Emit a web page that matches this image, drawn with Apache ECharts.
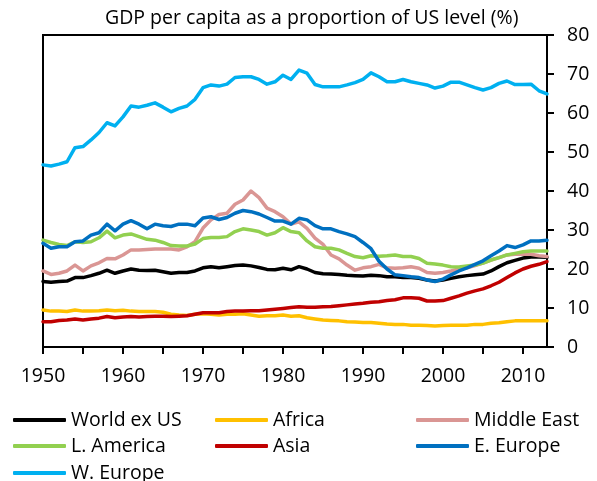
<!DOCTYPE html>
<html>
<head>
<meta charset="utf-8">
<script src="https://cdn.jsdelivr.net/npm/echarts@6/dist/echarts.min.js"></script>
<style>
  html, body { margin: 0; padding: 0; background: #fff; }
  #chart { width: 597px; height: 481px; }
</style>
</head>
<body>
<div id="chart"></div>
<script>
const FONT = "Open Sans";

const startYear = 1950;
const endYear = 2013;

const worldExUS = [
  16.8, 16.6, 16.8, 16.9, 17.8, 17.8, 18.3, 18.9, 19.7, 18.9,
  19.5, 20.0, 19.7, 19.6, 19.7, 19.3, 18.9, 19.1, 19.1, 19.5,
  20.3, 20.6, 20.3, 20.6, 20.9, 21.0, 20.8, 20.4, 19.9, 19.8,
  20.2, 19.8, 20.6, 20.0, 19.1, 18.8, 18.7, 18.6, 18.4, 18.3,
  18.2, 18.4, 18.3, 18.0, 18.0, 17.8, 17.8, 17.6, 17.2, 16.9,
  17.2, 17.6, 18.0, 18.3, 18.5, 18.7, 19.5, 20.6, 21.6, 22.2,
  22.8, 23.1, 23.1, 23.0
];
const africa = [
  9.5, 9.2, 9.2, 9.1, 9.5, 9.2, 9.2, 9.3, 9.5, 9.3,
  9.4, 9.2, 9.1, 9.1, 9.1, 8.9, 8.4, 8.2, 8.1, 8.4,
  8.5, 8.4, 8.2, 8.4, 8.4, 8.5, 8.2, 7.9, 8.0, 8.0,
  8.2, 7.9, 8.0, 7.5, 7.2, 6.9, 6.8, 6.7, 6.5, 6.4,
  6.3, 6.3, 6.1, 5.9, 5.8, 5.8, 5.6, 5.6, 5.5, 5.4,
  5.5, 5.6, 5.6, 5.6, 5.8, 5.8, 6.1, 6.2, 6.5, 6.7,
  6.7, 6.7, 6.7, 6.7
];
const middleEast = [
  19.5, 18.6, 18.9, 19.5, 21.0, 19.5, 20.8, 21.6, 22.7, 22.6,
  23.6, 24.9, 24.9, 25.0, 25.1, 25.1, 25.1, 24.9, 25.7, 27.0,
  30.5, 32.6, 34.0, 34.3, 36.6, 37.7, 40.0, 38.3, 35.6, 34.7,
  33.4, 31.5, 32.1, 30.4, 27.9, 26.3, 23.6, 22.6, 21.0, 19.7,
  20.3, 20.6, 21.2, 20.3, 20.2, 20.3, 20.6, 20.2, 19.1, 18.9,
  19.1, 19.5, 20.0, 20.3, 20.9, 21.5, 22.3, 22.9, 23.6, 23.8,
  23.8, 23.8, 23.4, 23.2
];
const latinAmerica = [
  27.4, 26.8, 26.3, 26.0, 27.0, 26.8, 27.0, 28.0, 29.7, 28.0,
  28.7, 29.0, 28.3, 27.6, 27.4, 26.8, 26.0, 25.9, 25.9, 26.4,
  27.8, 28.1, 28.1, 28.3, 29.6, 30.3, 30.0, 29.6, 28.7, 29.3,
  30.6, 29.6, 29.3, 27.2, 25.7, 25.3, 25.3, 24.9, 24.0, 23.2,
  22.9, 23.4, 23.3, 23.4, 23.6, 23.2, 23.2, 22.7, 21.5, 21.3,
  21.0, 20.6, 20.5, 20.8, 21.0, 21.5, 22.3, 22.9, 23.6, 24.0,
  24.4, 24.6, 24.6, 24.6
];
const asia = [
  6.5, 6.5, 6.8, 6.9, 7.2, 6.9, 7.2, 7.4, 7.8, 7.5,
  7.7, 7.8, 7.7, 7.8, 7.9, 7.9, 7.8, 7.9, 8.0, 8.4,
  8.8, 8.8, 8.8, 9.1, 9.2, 9.2, 9.3, 9.3, 9.5, 9.7,
  9.9, 10.1, 10.3, 10.2, 10.2, 10.3, 10.4, 10.6, 10.8, 11.0,
  11.2, 11.5, 11.6, 11.9, 12.1, 12.6, 12.6, 12.5, 11.8, 11.8,
  11.9, 12.5, 13.1, 13.8, 14.4, 14.9, 15.7, 16.6, 17.8, 19.0,
  20.0, 20.7, 21.2, 21.9
];
const eastEurope = [
  26.6, 25.3, 25.7, 25.7, 27.0, 27.2, 28.7, 29.3, 31.5, 29.8,
  31.5, 32.4, 31.5, 30.3, 31.5, 31.1, 30.9, 31.5, 31.5, 31.1,
  33.1, 33.4, 32.7, 33.2, 34.3, 35.0, 34.7, 34.1, 33.2, 32.3,
  32.3, 31.5, 33.0, 32.6, 31.1, 30.3, 30.3, 29.6, 29.0, 28.3,
  26.8, 25.2, 22.0, 20.0, 18.5, 18.3, 18.0, 17.8, 17.2, 16.8,
  17.4, 18.5, 19.5, 20.3, 21.2, 22.1, 23.4, 24.6, 26.0, 25.5,
  26.2, 27.2, 27.2, 27.4
];
const westEurope = [
  46.7, 46.4, 46.9, 47.5, 51.1, 51.4, 53.1, 55.0, 57.5, 56.7,
  59.0, 61.8, 61.5, 62.0, 62.6, 61.5, 60.3, 61.2, 61.8, 63.5,
  66.5, 67.2, 66.9, 67.4, 69.1, 69.3, 69.3, 68.6, 67.4, 68.0,
  69.7, 68.6, 71.0, 70.2, 67.3, 66.7, 66.7, 66.7, 67.2, 67.8,
  68.6, 70.3, 69.3, 68.0, 68.0, 68.6, 68.0, 67.6, 67.2, 66.4,
  66.9, 67.9, 67.9, 67.2, 66.5, 65.9, 66.5, 67.6, 68.2, 67.3,
  67.3, 67.4, 65.7, 64.9
];

const xTicks = [1950, 1955, 1960, 1965, 1970, 1975, 1980, 1985, 1990, 1995, 2000, 2005, 2010];
const xLabels = [1950, 1960, 1970, 1980, 1990, 2000, 2010];

const seriesList = [
  { name: "World ex US", data: worldExUS, color: "#000000" },
  { name: "Africa", data: africa, color: "#FFC000" },
  { name: "Middle East", data: middleEast, color: "#DA9694" },
  { name: "L. America", data: latinAmerica, color: "#92D050" },
  { name: "Asia", data: asia, color: "#C00000" },
  { name: "E. Europe", data: eastEurope, color: "#0070C0" },
  { name: "W. Europe", data: westEurope, color: "#00B0F0" }
];

// legend slots: 3 columns x 3 rows, in series order
const legendCols = [13, 215, 416];
const legendRows = [410, 436, 463];

const years = [];
for (let y = startYear; y <= endYear; y++) years.push(y);

const legendText = { fontFamily: FONT, fontSize: 19.5, color: "#000" };
const legends = seriesList.map((s, i) => ({
  left: legendCols[i % 3],
  top: legendRows[Math.floor(i / 3)],
  padding: 0,
  itemWidth: 53,
  itemHeight: 4,
  icon: "roundRect",
  textStyle: legendText,
  data: [s.name]
}));

const chart = echarts.init(document.getElementById("chart"), null, { renderer: "canvas" });

chart.setOption({
  animation: false,
  backgroundColor: "#fff",
  title: {
    text: "GDP per capita as a proportion of US level (%)",
    left: 100,
    top: 3,
    textStyle: { fontFamily: FONT, fontSize: 19.5, fontWeight: "normal", color: "#000" }
  },
  legend: legends,
  grid: {
    left: 43, right: 50, top: 35, bottom: 134,
    show: true, borderColor: "#000", borderWidth: 2
  },
  xAxis: {
    type: "value",
    min: startYear,
    max: endYear,
    interval: 5,
    axisLine: { lineStyle: { color: "#000", width: 2 } },
    axisTick: { length: 7, lineStyle: { color: "#000", width: 2 }, customValues: xTicks },
    axisLabel: {
      customValues: xLabels,
      margin: 19,
      fontFamily: FONT, fontSize: 19.5, color: "#000",
      formatter: v => (v % 10 === 0 ? String(v) : "")
    },
    splitLine: { show: false }
  },
  yAxis: {
    type: "value",
    position: "right",
    min: 0,
    max: 80,
    interval: 10,
    axisLine: { show: true, lineStyle: { color: "#000", width: 2 } },
    axisTick: { show: true, length: 7, lineStyle: { color: "#000", width: 2 } },
    axisLabel: { margin: 20, fontFamily: FONT, fontSize: 19.5, color: "#000" },
    splitLine: { show: false }
  },
  series: seriesList.map(s => ({
    name: s.name,
    type: "line",
    symbol: "none",
    color: s.color,
    lineStyle: { width: 3.5, color: s.color, cap: "round", join: "round" },
    data: s.data.map((v, i) => [years[i], v])
  }))
});
</script>
</body>
</html>
